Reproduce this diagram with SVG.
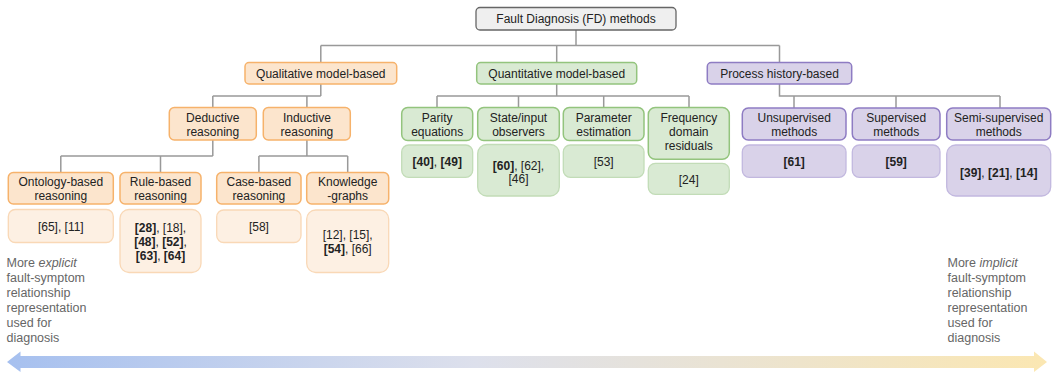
<svg xmlns="http://www.w3.org/2000/svg" width="1052" height="374" viewBox="0 0 1052 374">
<defs>
<linearGradient id="arrowGrad" x1="0" y1="0" x2="1" y2="0">
<stop offset="0" stop-color="#a6c0ef"/>
<stop offset="0.45" stop-color="#dde0ec"/>
<stop offset="1" stop-color="#fbe7b2"/>
</linearGradient>
<style>
text{font-family:"Liberation Sans",Arial,sans-serif;font-size:12px;fill:#222;text-anchor:middle}
.side{font-size:12.5px;fill:#666;text-anchor:start}
.b{font-weight:bold}
.root{fill:#efefef;stroke:#666;stroke-width:1.3}
.org{fill:#fce5cd;stroke:#f6b26b;stroke-width:1.5}
.orgr{fill:#fdf0e3;stroke:#f9d8b6;stroke-width:1.3}
.grn{fill:#d9ead3;stroke:#93c47d;stroke-width:1.5}
.grnr{fill:#d9ead3;stroke:#c2dcb7;stroke-width:1.3}
.pur{fill:#d9d2e9;stroke:#8e7cc3;stroke-width:1.5}
.purr{fill:#d9d2e9;stroke:#c2b8df;stroke-width:1.3}
.conn{fill:none;stroke:#999;stroke-width:1.5}
</style>
</defs>

<g id="connectors">
<path class="conn" d="M576,30 V45.5 M320.8,45.5 H779.5 M320.8,45.5 V62.5 M556.7,45.5 V62.5 M779.5,45.5 V62.5"/>
<path class="conn" d="M320.8,84 V96 M212.8,96 H320.8 M212.8,96 V107.5 M306.9,96 V107.5"/>
<path class="conn" d="M556.7,84 V96 M437,96 H689 M437,96 V107.5 M518.5,96 V107.5 M603.7,96 V107.5 M689,96 V107.5"/>
<path class="conn" d="M779.5,84 V96 H1000 M794,96 V108 M896,96 V108 M1000,96 V108"/>
<path class="conn" d="M212.8,140 V156 M60.8,156 H212.8 M60.8,156 V172.5 M160.5,156 V172.5"/>
<path class="conn" d="M306.9,140 V156 M258.9,156 H347.7 M258.9,156 V172.5 M347.7,156 V172.5"/>
</g>

<g id="root">
<rect class="root" x="476" y="7.5" width="200" height="22.5" rx="4"/>
<text x="576" y="23">Fault Diagnosis (FD) methods</text>
</g>

<g id="qualitative">
<rect class="org" x="245" y="62.5" width="151.7" height="21.5" rx="4"/>
<text x="320.8" y="77.5">Qualitative model-based</text>
</g>
<g id="quantitative">
<rect class="grn" x="476.7" y="62.5" width="160" height="21.5" rx="4"/>
<text x="556.7" y="77.5">Quantitative model-based</text>
</g>
<g id="process">
<rect class="pur" x="707.3" y="62.5" width="144.4" height="21.5" rx="4"/>
<text x="779.5" y="77.5">Process history-based</text>
</g>

<g id="deductive">
<rect class="org" x="169.3" y="107.5" width="87" height="32.5" rx="5"/>
<text x="212.8" y="121.5">Deductive</text>
<text x="212.8" y="135.5">reasoning</text>
</g>
<g id="inductive">
<rect class="org" x="263.3" y="107.5" width="87" height="32.5" rx="5"/>
<text x="306.9" y="121.5">Inductive</text>
<text x="306.9" y="135.5">reasoning</text>
</g>

<g id="ontology">
<rect class="org" x="8.3" y="172.5" width="105" height="31.5" rx="5"/>
<text x="60.8" y="186">Ontology-based</text>
<text x="60.8" y="200">reasoning</text>
<rect class="orgr" x="8.3" y="209.5" width="105" height="33" rx="7"/>
<text x="60.8" y="230.5">[65], [11]</text>
</g>
<g id="rule">
<rect class="org" x="120" y="172.5" width="81" height="31.5" rx="5"/>
<text x="160.5" y="186">Rule-based</text>
<text x="160.5" y="200">reasoning</text>
<rect class="orgr" x="120" y="209.5" width="81" height="63" rx="9"/>
<text x="160.5" y="231.5"><tspan class="b">[28]</tspan>, [18],</text>
<text x="160.5" y="245.5"><tspan class="b">[48]</tspan>, <tspan class="b">[52]</tspan>,</text>
<text x="160.5" y="259.5"><tspan class="b">[63]</tspan>, <tspan class="b">[64]</tspan></text>
</g>
<g id="case">
<rect class="org" x="216.7" y="172.5" width="84.3" height="31.5" rx="5"/>
<text x="258.9" y="186">Case-based</text>
<text x="258.9" y="200">reasoning</text>
<rect class="orgr" x="216.7" y="210" width="84.3" height="32.5" rx="7"/>
<text x="258.9" y="230.5">[58]</text>
</g>
<g id="knowledge">
<rect class="org" x="306.7" y="172.5" width="82" height="31.5" rx="5"/>
<text x="347.7" y="186">Knowledge</text>
<text x="347.7" y="200">-graphs</text>
<rect class="orgr" x="306.7" y="210" width="82" height="62.5" rx="9"/>
<text x="347.7" y="239">[12], [15],</text>
<text x="347.7" y="253"><tspan class="b">[54]</tspan>, [66]</text>
</g>

<g id="parity">
<rect class="grn" x="401.7" y="107.5" width="71" height="33" rx="6"/>
<text x="437.2" y="121.5">Parity</text>
<text x="437.2" y="135.5">equations</text>
<rect class="grnr" x="401.7" y="145" width="71" height="32.3" rx="7"/>
<text x="437.2" y="165.5"><tspan class="b">[40]</tspan>, <tspan class="b">[49]</tspan></text>
</g>
<g id="state">
<rect class="grn" x="477.7" y="107.5" width="81.6" height="33" rx="6"/>
<text x="518.5" y="121.5">State/input</text>
<text x="518.5" y="135.5">observers</text>
<rect class="grnr" x="477.7" y="144.5" width="81.6" height="51.5" rx="9"/>
<text x="518.5" y="169.5"><tspan class="b">[60]</tspan>, [62],</text>
<text x="518.5" y="183">[46]</text>
</g>
<g id="parameter">
<rect class="grn" x="563.3" y="107.5" width="80.7" height="33" rx="6"/>
<text x="603.7" y="121.5">Parameter</text>
<text x="603.7" y="135.5">estimation</text>
<rect class="grnr" x="563.3" y="145" width="80.7" height="32.3" rx="7"/>
<text x="603.7" y="165.5">[53]</text>
</g>
<g id="frequency">
<rect class="grn" x="648.3" y="107.5" width="81" height="51.8" rx="7"/>
<text x="688.8" y="121.5">Frequency</text>
<text x="688.8" y="135.5">domain</text>
<text x="688.8" y="149.5">residuals</text>
<rect class="grnr" x="648.3" y="163.3" width="81" height="31" rx="7"/>
<text x="688.8" y="183.5">[24]</text>
</g>

<g id="unsupervised">
<rect class="pur" x="742.3" y="108" width="103.7" height="32" rx="6"/>
<text x="794.2" y="122">Unsupervised</text>
<text x="794.2" y="136">methods</text>
<rect class="purr" x="742.3" y="145" width="103.7" height="32.3" rx="7"/>
<text x="794.2" y="165.5" class="b">[61]</text>
</g>
<g id="supervised">
<rect class="pur" x="852.3" y="108" width="87.7" height="32" rx="6"/>
<text x="896.2" y="122">Supervised</text>
<text x="896.2" y="136">methods</text>
<rect class="purr" x="852.3" y="145" width="87.7" height="32.3" rx="7"/>
<text x="896.2" y="165.5" class="b">[59]</text>
</g>
<g id="semisupervised">
<rect class="pur" x="946.7" y="108" width="104" height="32" rx="6"/>
<text x="998.7" y="122">Semi-supervised</text>
<text x="998.7" y="136">methods</text>
<rect class="purr" x="946.7" y="145" width="104" height="51" rx="9"/>
<text x="998.7" y="176.5"><tspan class="b">[39]</tspan>, <tspan class="b">[21]</tspan>, <tspan class="b">[14]</tspan></text>
</g>

<g id="explicit-note">
<text class="side" x="6.5" y="266.5">More <tspan font-style="italic">explicit</tspan></text>
<text class="side" x="6.5" y="281.5">fault-symptom</text>
<text class="side" x="6.5" y="296.5">relationship</text>
<text class="side" x="6.5" y="311.5">representation</text>
<text class="side" x="6.5" y="326.5">used for</text>
<text class="side" x="6.5" y="341.5">diagnosis</text>
</g>
<g id="implicit-note">
<text class="side" x="947.5" y="267">More <tspan font-style="italic">implicit</tspan></text>
<text class="side" x="947.5" y="282">fault-symptom</text>
<text class="side" x="947.5" y="297">relationship</text>
<text class="side" x="947.5" y="312">representation</text>
<text class="side" x="947.5" y="327">used for</text>
<text class="side" x="947.5" y="342">diagnosis</text>
</g>

<g id="spectrum-arrow">
<polygon fill="url(#arrowGrad)" points="7,362 20.5,351.5 20.5,356 1034,356 1034,351.5 1047,362 1034,372 1034,368 20.5,368 20.5,372"/>
</g>
</svg>
